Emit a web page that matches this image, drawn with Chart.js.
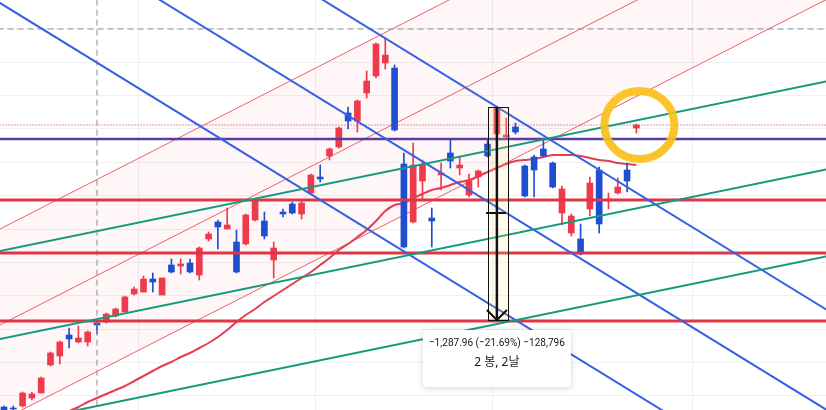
<!DOCTYPE html>
<html>
<head>
<meta charset="utf-8">
<script src="https://cdn.jsdelivr.net/npm/chart.js@4.4.1/dist/chart.umd.min.js"></script>
<style>
  html, body { margin: 0; padding: 0; background: #fff; overflow: hidden; }
  canvas { display: block; }
</style>
</head>
<body>
<canvas id="priceChart" width="826" height="410"></canvas>
<script>
// daily candles, index 0..68
const opens = [4132, 4126, 4138, 4186, 4216, 4384, 4438, 4564, 4522, 4522, 4636, 4642, 4678, 4702, 4810, 4822, 4900, 4804, 4984, 4978,
  4996, 4924, 5140, 5242, 5200, 5122, 5110, 5254, 5248, 5014, 5302, 5350, 5290, 5416, 5512, 5638, 5692, 5896, 5848, 6016,
  6118, 6196, 6166, 5590, 5242, 5488, 5266, 5524, 5656, 5566, 5404, 5512, 5710, 5770, 5752, 5812, 5578, 5632, 5680, 5596,
  5296, 5176, 5140, 5320, 5554, 5368, 5416, 5554, 5806];
const highs = [4138, 4138, 4222, 4222, 4312, 4462, 4528, 4606, 4618, 4588, 4642, 4696, 4726, 4798, 4852, 4918, 4936, 4906, 5020, 5020,
  5020, 5092, 5182, 5254, 5326, 5194, 5290, 5380, 5302, 5122, 5320, 5362, 5368, 5530, 5584, 5686, 5812, 5932, 5974, 6148,
  6316, 6346, 6184, 5656, 5716, 5614, 5326, 5596, 5740, 5632, 5530, 5554, 5740, 5938, 5866, 5836, 5584, 5644, 5734, 5602,
  5458, 5290, 5230, 5512, 5572, 5416, 5506, 5596, 5830];
const lows = [4108, 4108, 4132, 4174, 4216, 4378, 4390, 4486, 4516, 4498, 4570, 4636, 4672, 4702, 4804, 4822, 4822, 4804, 4936, 4930,
  4936, 4894, 5128, 5080, 5200, 4936, 5104, 5248, 5140, 4906, 5272, 5290, 5260, 5410, 5482, 5614, 5686, 5800, 5782, 5986,
  6106, 6160, 5788, 5086, 5236, 5374, 5092, 5434, 5566, 5524, 5392, 5452, 5632, 5764, 5746, 5770, 5392, 5392, 5632, 5446,
  5224, 5158, 5044, 5278, 5176, 5320, 5410, 5422, 5776];
const closes = [4114, 4120, 4216, 4210, 4306, 4456, 4522, 4540, 4546, 4582, 4624, 4690, 4720, 4792, 4840, 4900, 4882, 4906, 4942, 4990,
  4942, 5086, 5170, 5212, 5224, 4942, 5284, 5374, 5158, 5086, 5290, 5296, 5356, 5524, 5500, 5680, 5806, 5848, 5968, 6088,
  6310, 6244, 5794, 5092, 5584, 5584, 5248, 5536, 5608, 5584, 5488, 5548, 5638, 5926, 5764, 5782, 5398, 5554, 5638, 5452,
  5440, 5278, 5050, 5476, 5230, 5380, 5452, 5488, 5824];
// moving average (starts at index 7)
const movingAvg = [null, null, null, null, null, null, null, 4108, 4132, 4162, 4186, 4210, 4234, 4258, 4288, 4318, 4348, 4378, 4402, 4432,
  4456, 4486, 4516, 4552, 4594, 4642, 4684, 4720, 4762, 4798, 4834, 4870, 4906, 4942, 4984, 5026, 5074, 5110, 5152, 5194,
  5248, 5308, 5344, 5356, 5386, 5410, 5434, 5446, 5464, 5482, 5494, 5518, 5542, 5566, 5590, 5608, 5614, 5620, 5632, 5644,
  5644, 5644, 5638, 5626, 5614, 5608, 5596, 5590, 5584];

const monthStarts = [4, 25, 42, 63, 85];
const lineSpan = [-5, 95];
// trendlines: price at lineSpan[0], price at lineSpan[1]
const blueLines = [[6713, 3281], [7321, 3890], [7923, 4491]];
const greenLines = [[5016, 6160], [4488, 5632], [3966, 5110]];
const channelLines = [[5070, 7916], [4494, 7340], [3918, 6764]];
const redLevels = [5374, 5056, 4648];
const purpleLevel = 5740;
const lastPrice = 5824;
const crossPrice = 6400;
const crossIndex = 10;
const measure = { from: 52.05, to: 54.2, at: 53, top: 5932, bottom: 4654, mark: 5296 };
const measureText = ['\u22121,287.96 (\u221221.69%) \u2212128,796', '2 \ubd09, 2\ub0a0'];

const UP = '#ee3a4b';
const DOWN = '#1f4fd0';
const candleColors = closes.map((c, i) => (c >= opens[i] ? UP : DOWN));

function segment(pair, color, width, order, extra) {
  return Object.assign({
    type: 'line',
    data: [{ x: lineSpan[0], y: pair[0] }, { x: lineSpan[1], y: pair[1] }],
    borderColor: color,
    borderWidth: width,
    pointRadius: 0,
    fill: false,
    order: order,
  }, extra || {});
}

const datasets = [];
// regression channel with pale fill
channelLines.forEach((p, k) => {
  datasets.push(segment(p, '#f0606c', 1, 20, k === 0 ? { fill: '+2', backgroundColor: 'rgba(242,54,69,0.045)' } : {}));
});
datasets.push({
  type: 'line',
  data: movingAvg.map((v, i) => ({ x: i, y: v })),
  borderColor: '#e53e4e',
  borderWidth: 2,
  pointRadius: 0,
  tension: 0.3,
  spanGaps: false,
  order: 9,
});
datasets.push({
  type: 'bar',
  data: lows.map((l, i) => ({ x: i, y: [l, highs[i]] })),
  backgroundColor: candleColors,
  barThickness: 1,
  grouped: false,
  order: 8,
});
datasets.push({
  type: 'bar',
  data: opens.map((o, i) => ({ x: i, y: [o, closes[i]] })),
  backgroundColor: candleColors,
  barThickness: 6,
  grouped: false,
  order: 7,
});
datasets.push(segment([crossPrice, crossPrice], '#8d8f96', 1, 6, { borderDash: [6, 4] }));
datasets.push({
  type: 'line',
  data: [{ x: crossIndex, y: 3000 }, { x: crossIndex, y: 8000 }],
  borderColor: '#8d8f96', borderWidth: 1, borderDash: [6, 4], pointRadius: 0, order: 6,
});
datasets.push(segment([lastPrice, lastPrice], '#b0364a', 1, 5, { borderDash: [1, 2] }));
redLevels.forEach((v) => datasets.push(segment([v, v], '#df3545', 3, 3)));
datasets.push(segment([purpleLevel, purpleLevel], '#5c3ba6', 2.5, 3));
greenLines.forEach((p) => datasets.push(segment(p, '#159a7d', 2, 2)));
blueLines.forEach((p) => datasets.push(segment(p, '#3562e3', 2, 2)));

const overlayPlugin = {
  id: 'overlay',
  afterDatasetsDraw(chart) {
    const { ctx, scales: { x, y } } = chart;
    ctx.save();
    // measure box
    const x1 = x.getPixelForValue(measure.from);
    const x2 = x.getPixelForValue(measure.to);
    const xa = x.getPixelForValue(measure.at);
    const yt = y.getPixelForValue(measure.top);
    const yb = y.getPixelForValue(measure.bottom);
    ctx.fillStyle = 'rgba(255,240,150,0.18)';
    ctx.fillRect(x1, yt, x2 - x1, yb - yt);
    ctx.strokeStyle = '#111';
    ctx.lineWidth = 1;
    ctx.strokeRect(Math.round(x1) + 0.5, Math.round(yt) + 0.5, Math.round(x2 - x1), Math.round(yb - yt));
    ctx.lineWidth = 2.5;
    ctx.beginPath();
    ctx.moveTo(xa, yt);
    ctx.lineTo(xa, yb);
    ctx.stroke();
    ctx.lineWidth = 2;
    ctx.beginPath();
    ctx.moveTo(xa - 10, yb - 10);
    ctx.lineTo(xa, yb);
    ctx.lineTo(xa + 10, yb - 10);
    ctx.stroke();
    const ym = y.getPixelForValue(measure.mark);
    ctx.beginPath();
    ctx.moveTo(x1 - 2, ym);
    ctx.lineTo(x1 + 18, ym);
    ctx.stroke();

    // label box under the arrow
    const bw = 148, bh = 57;
    const bx = xa - bw / 2, by = yb + 10;
    ctx.shadowColor = 'rgba(0,0,0,0.18)';
    ctx.shadowBlur = 6;
    ctx.shadowOffsetY = 1;
    ctx.fillStyle = '#fff';
    ctx.beginPath();
    ctx.roundRect(bx, by, bw, bh, 4);
    ctx.fill();
    ctx.shadowColor = 'transparent';
    ctx.fillStyle = '#131722';
    ctx.font = '11.5px Roboto, "Noto Sans CJK KR", sans-serif';
    ctx.textAlign = 'center';
    ctx.textBaseline = 'middle';
    ctx.fillText(measureText[0], xa, by + 13, 136);
    ctx.font = '12px "Noto Sans", "Noto Sans CJK KR", sans-serif';
    ctx.fillText(measureText[1], xa, by + 33);

    // hand-drawn highlight around the last candle
    const cx = x.getPixelForValue(opens.length - 1) + 3;
    const cy = y.getPixelForValue(lastPrice);
    ctx.strokeStyle = 'rgba(249,192,24,0.92)';
    ctx.lineWidth = 8;
    ctx.beginPath();
    ctx.ellipse(cx, cy, 35, 34, 0, 0, Math.PI * 2);
    ctx.stroke();
    ctx.restore();
  },
};

new Chart(document.getElementById('priceChart'), {
  type: 'bar',
  data: { datasets: datasets },
  options: {
    responsive: false,
    animation: false,
    layout: { padding: 0 },
    plugins: { legend: { display: false }, tooltip: { enabled: false } },
    scales: {
      x: {
        type: 'linear',
        min: -0.43,
        max: 88.39,
        offset: false,
        afterBuildTicks: (scale) => { scale.ticks = monthStarts.map((v) => ({ value: v })); },
        grid: { color: '#eef0f3', drawTicks: false },
        border: { display: false },
        ticks: { display: false },
      },
      y: {
        min: 4114,
        max: 6574,
        ticks: { display: false, stepSize: 200, includeBounds: false },
        grid: { color: '#eef0f3', drawTicks: false },
        border: { display: false },
      },
    },
  },
  plugins: [overlayPlugin],
});
</script>
</body>
</html>
